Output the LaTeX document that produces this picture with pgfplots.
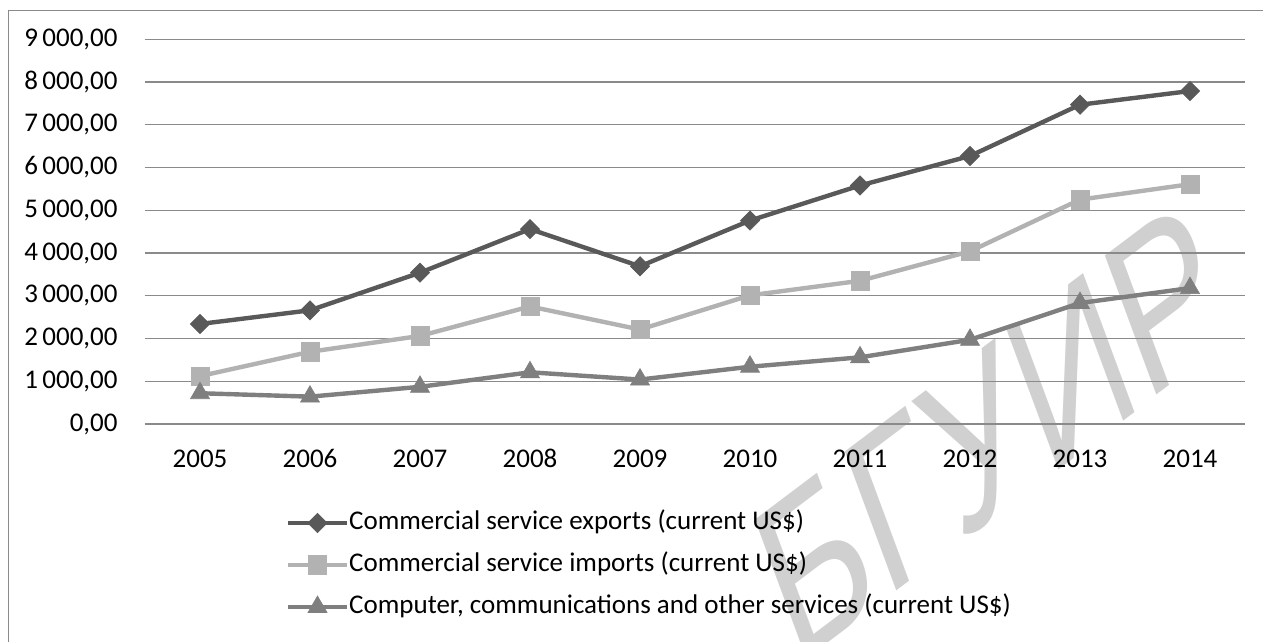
\documentclass[border=0pt]{standalone}
\usepackage{fontspec}
\setmainfont{Carlito}
\newfontfamily\wmfont{Liberation Sans}
\usepackage{pgfplots}
\pgfplotsset{compat=1.18}
\definecolor{cexp}{HTML}{595959}
\definecolor{cimp}{HTML}{B2B2B2}
\definecolor{ccomp}{HTML}{7F7F7F}
\definecolor{cgrid}{HTML}{8A8A8A}
\definecolor{cwm}{HTML}{D0D0D0}
\begin{document}
\fontsize{13.5}{16}\selectfont
\begin{tikzpicture}[x=0.5pt,y=-0.5pt]
\useasboundingbox (0,0) rectangle (1263,642);
\node[text=cwm, font=\wmfont\fontsize{86}{90}\selectfont, anchor=base west, inner sep=0pt, rotate=37, xslant=0.3, yscale=1.2] at (795,668) {БГУИР};
\draw[cgrid, line width=0.75pt] (8.5,10.5) rectangle (1300,700);
\begin{axis}[
  at={(72.5pt,-212pt)}, anchor=south west,
  scale only axis, width=550pt, height=192.35pt,
  xmin=-0.5, xmax=9.5, ymin=0, ymax=9000,
  axis line style={draw=none}, tick style={draw=none},
  ymajorgrids, grid style={cgrid, line width=0.6pt},
  ytick={0,1000,...,9000},
  xtick={0,1,2,3,4,5,6,7,8,9},
  xticklabels={2005,2006,2007,2008,2009,2010,2011,2012,2013,2014},
  /pgf/number format/assume math mode=true,
  yticklabel={\pgfmathprintnumber[fixed,fixed zerofill,precision=2,use comma,1000 sep={\,},assume math mode=true]{\tick}},
  yticklabel style={xshift=-9pt},
  xticklabel style={text height=8.5pt, text depth=0pt, yshift=-8.5pt},
  legend cell align=left,
  legend style={at={(0.128,-0.3665)}, anchor=west, draw=none, fill=none, inner sep=0pt, outer sep=0pt, row sep=9pt, nodes={inner sep=0pt, anchor=west, text height=9.5pt, text depth=2.5pt}},
  legend image code/.code={\draw[mark repeat=2, mark phase=2] plot coordinates {(0pt,0pt) (14.75pt,0pt) (29.5pt,0pt)};},
  every axis plot/.append style={line width=2.2pt},
]
\addplot[cexp, mark=square*, mark size=3.4pt, mark options={rotate=45, line width=0.3pt}] coordinates {
(0,2340) (1,2660) (2,3540) (3,4560) (4,3690) (5,4760) (6,5580) (7,6270) (8,7470) (9,7790)};
\addlegendentry{Commercial service exports (current US\$)}
\addplot[cimp, mark=square*, mark size=4.6pt, mark options={line width=0.3pt}] coordinates {
(0,1120) (1,1690) (2,2060) (3,2750) (4,2210) (5,3010) (6,3350) (7,4040) (8,5250) (9,5610)};
\addlegendentry{Commercial service imports (current US\$)}
\addplot[ccomp, mark=triangle*, mark size=5.5pt, mark options={line width=0.3pt}] coordinates {
(0,720) (1,640) (2,870) (3,1210) (4,1040) (5,1340) (6,1560) (7,1970) (8,2830) (9,3180)};
\addlegendentry{Computer, communications and other services (current US\$)}
\end{axis}
\end{tikzpicture}
\end{document}
